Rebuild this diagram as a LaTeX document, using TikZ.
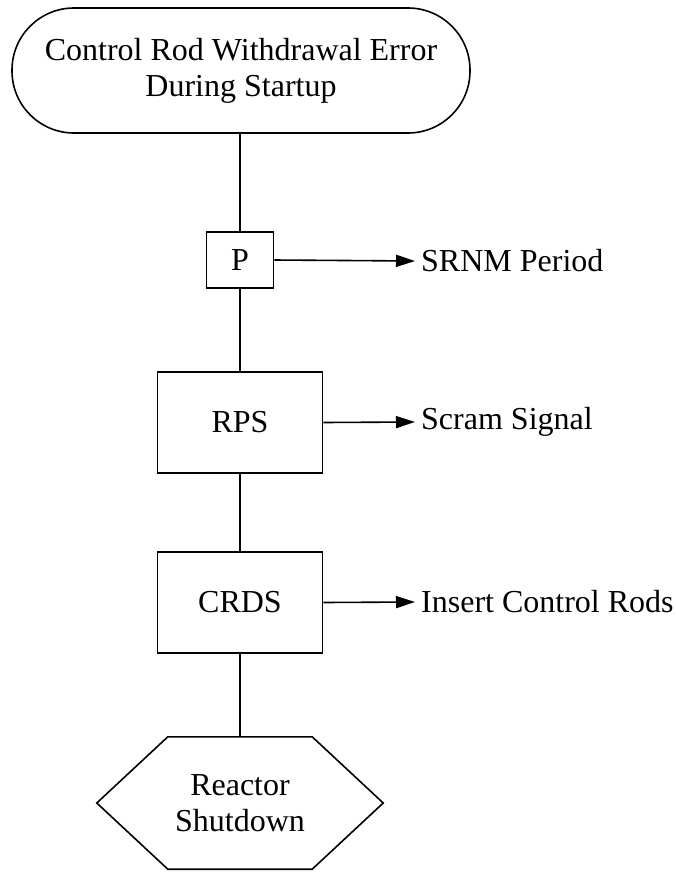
\documentclass[tikz,border=0pt]{standalone}
\usepackage{fontspec}
\setmainfont{Liberation Serif}
\usetikzlibrary{arrows.meta,calc}
\begin{document}
\begin{tikzpicture}[x=1pt,y=-1pt,
  every node/.style={font=\fontsize{32}{36}\selectfont, align=center},
  box/.style={draw, line width=1.6pt, inner sep=0pt},
  conn/.style={line width=1.6pt},
  arr/.style={line width=1.6pt, -{Triangle[length=19pt,width=12pt]}},
  lbl/.style={anchor=west, inner sep=0pt}]
\useasboundingbox (0,0) rectangle (676,873);
\node[box, rounded corners=62pt, minimum width=458pt, minimum height=125pt] (term) at (241,70.5) {Control Rod Withdrawal Error\\During Startup};
\node[box, minimum width=67pt, minimum height=56pt] (p) at (240,260) {P};
\node[box, minimum width=165pt, minimum height=101pt] (rps) at (240,422.5) {RPS};
\node[box, minimum width=165pt, minimum height=101pt] (crds) at (240,602.5) {CRDS};
\node[inner sep=0pt, minimum width=286pt, minimum height=132pt] (hex) at (240,803) {Reactor\\Shutdown};
\draw[line width=1.6pt, line join=miter] (hex.west) -- ($(hex.north west)+(71,0)$) -- ($(hex.north east)+(-71,0)$) -- (hex.east) -- ($(hex.south east)+(-71,0)$) -- ($(hex.south west)+(71,0)$) -- cycle;
\node[lbl] (srnm) at (421,261) {SRNM Period};
\node[lbl] (scram) at (421,422) {Scram Signal};
\node[lbl] (ins) at (421,602) {Insert Control Rods};
\draw[conn] (term.south -| p.north) -- (p.north);
\draw[conn] (p.south) -- (rps.north);
\draw[conn] (rps.south) -- (crds.north);
\draw[conn] (crds.south) -- (hex.north);
\draw[arr] (p.east) -- ($(srnm.west)+(-6,0)$);
\draw[arr] (rps.east) -- ($(scram.west)+(-6,0)$);
\draw[arr] (crds.east) -- ($(ins.west)+(-6,0)$);
\end{tikzpicture}
\end{document}
